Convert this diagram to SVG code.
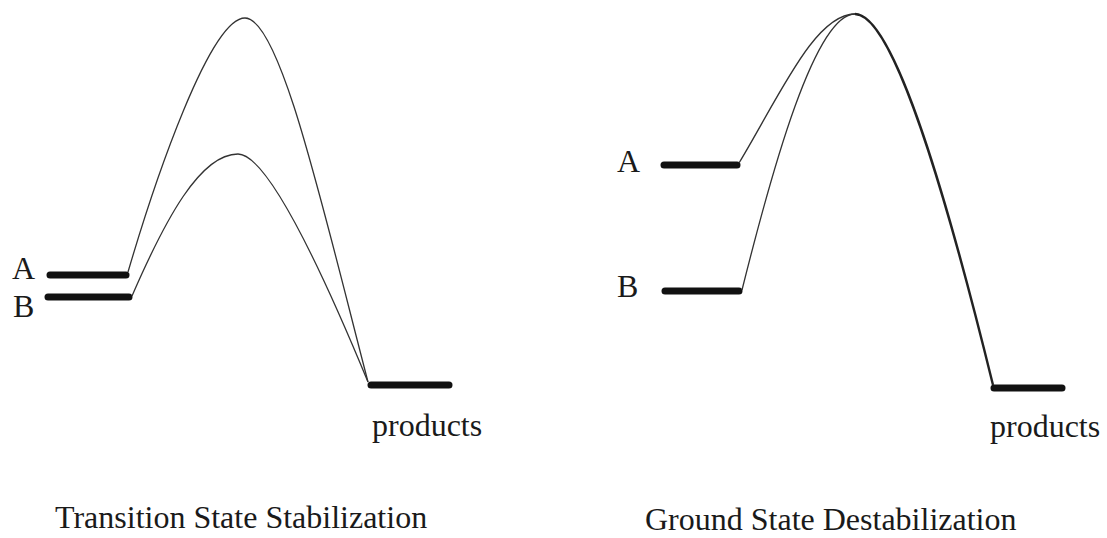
<svg xmlns="http://www.w3.org/2000/svg" width="1107" height="538" viewBox="0 0 1107 538">
<style>
.bg{fill:#ffffff}
.lbl{font-family:"Liberation Serif","Times New Roman",serif;font-size:32px;fill:#1a1a1a}
.bar{stroke:#111;stroke-width:7;stroke-linecap:round;fill:none}
.curve{stroke:#333;stroke-width:1.3;fill:none}
.curve-thick{stroke:#222;stroke-width:2.4;fill:none}
</style>
<rect class="bg" x="0" y="0" width="1107" height="538"/>
<g id="left-A">
<line class="bar" x1="50" y1="275" x2="126" y2="275"/>
<text class="lbl" x="12" y="279">A</text>
</g>
<g id="left-B">
<line class="bar" x1="48" y1="297" x2="129" y2="297"/>
<text class="lbl" x="13" y="317">B</text>
</g>
<g id="left-products">
<line class="bar" x1="371" y1="385" x2="449" y2="385"/>
<text class="lbl" x="372" y="436">products</text>
</g>
<g id="right-A">
<line class="bar" x1="664" y1="165" x2="737" y2="165"/>
<text class="lbl" x="617" y="172">A</text>
</g>
<g id="right-B">
<line class="bar" x1="665" y1="291" x2="739" y2="291"/>
<text class="lbl" x="617" y="297">B</text>
</g>
<g id="right-products">
<line class="bar" x1="994" y1="388" x2="1062" y2="388"/>
<text class="lbl" x="990" y="437">products</text>
</g>
<g id="connectors">
<path class="curve" d="M128,272 C155,180 210,18 245,18 C280,18 322,205 368,382"/>
<path class="curve" d="M132,296 C165,220 200,154 238,154 C270,154 330,290 368,382"/>
<path class="curve" d="M739,163 C780,95 815,14 855,14"/>
<path class="curve" d="M742,290 C772,170 815,14 855,14"/>
<path class="curve-thick" d="M855,14 C895,14 950,210 993,385"/>
</g>
<g id="titles">
<text class="lbl" x="55" y="528">Transition State Stabilization</text>
<text class="lbl" x="645" y="530">Ground State Destabilization</text>
</g>
</svg>
